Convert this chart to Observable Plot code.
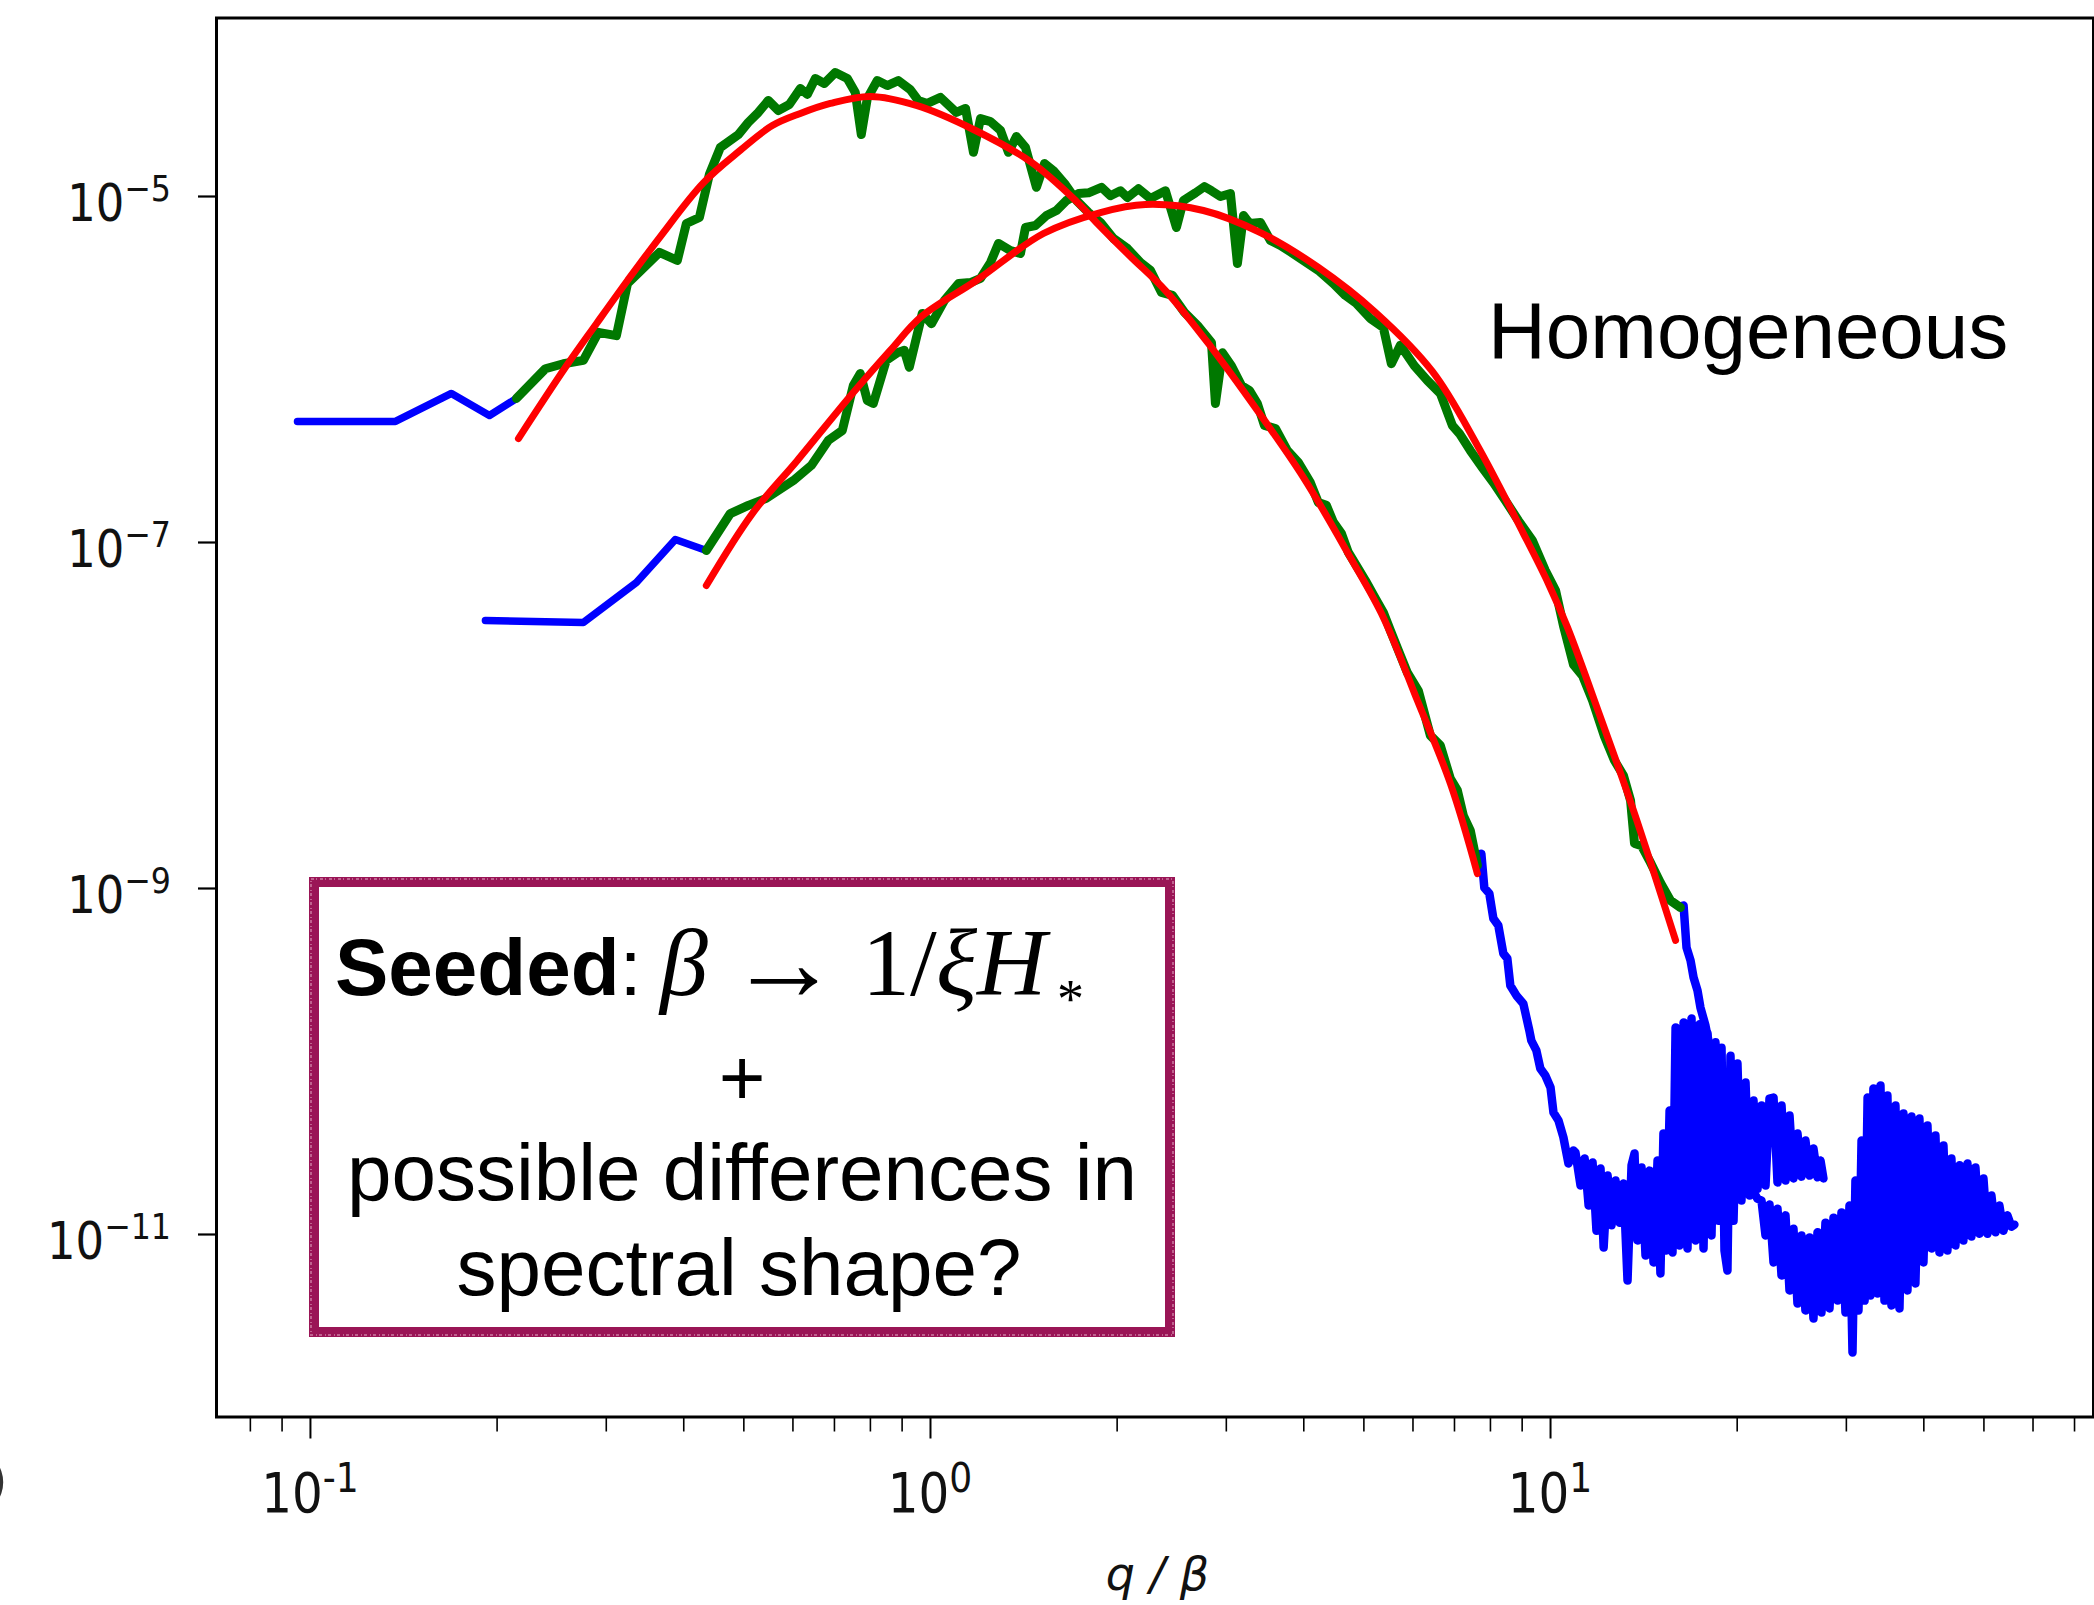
<!DOCTYPE html>
<html><head><meta charset="utf-8">
<script src="https://cdn.jsdelivr.net/npm/d3@7"></script>
<script src="https://cdn.jsdelivr.net/npm/@observablehq/plot@0.6"></script>
<style>html,body{margin:0;padding:0;background:#fff;overflow:hidden}#chart svg{display:block}</style>
</head><body><div id="chart"></div>
<script>
// ---- data: [q/beta, spectrum] ----
const blueA_head = [[0.0953,5.01e-7],[0.1371,5.01e-7],[0.1688,7.27e-7],[0.1944,5.42e-7],[0.2149,6.80e-7]];
const greenA = [[0.2149,6.80e-7],[0.2393,1.01e-6],[0.2558,1.08e-6],[0.2755,1.13e-6],[0.2913,1.64e-6],[0.3115,1.57e-6],[0.3246,3.14e-6],[0.3654,4.75e-6],[0.3906,4.27e-6],[0.4039,6.98e-6],[0.4239,7.56e-6],[0.4399,1.34e-5],[0.4582,1.92e-5],[0.4899,2.28e-5],[0.5084,2.68e-5],[0.5276,3.06e-5],[0.5476,3.59e-5],[0.5683,3.14e-5],[0.5920,3.40e-5],[0.6167,4.21e-5],[0.6329,3.89e-5],[0.6520,4.81e-5],[0.6741,4.50e-5],[0.7022,5.21e-5],[0.7343,4.81e-5],[0.7564,3.99e-5],[0.7734,2.28e-5],[0.7908,3.69e-5],[0.8208,4.68e-5],[0.8518,4.38e-5],[0.8873,4.68e-5],[0.9277,4.15e-5],[0.9557,3.59e-5],[0.9882,3.45e-5],[1.0378,3.74e-5],[1.101,3.06e-5],[1.139,3.23e-5],[1.173,1.80e-5],[1.204,2.82e-5],[1.2495,2.71e-5],[1.2968,2.41e-5],[1.336,1.80e-5],[1.376,2.22e-5],[1.423,1.92e-5],[1.482,1.13e-5],[1.527,1.55e-5],[1.579,1.41e-5],[1.651,1.17e-5],[1.720,9.48e-6],[1.798,8.08e-6],[1.880,7.08e-6],[1.973,5.72e-6],[2.078,5.01e-6],[2.181,4.15e-6],[2.263,3.74e-6],[2.358,2.79e-6],[2.456,2.68e-6],[2.568,2.14e-6],[2.695,1.80e-6],[2.839,1.43e-6],[2.881,6.36e-7],[2.957,1.25e-6],[3.057,1.05e-6],[3.174,8.08e-7],[3.270,7.56e-7],[3.367,6.36e-7],[3.456,4.75e-7],[3.600,4.56e-7],[3.764,3.40e-7],[3.921,2.90e-7],[4.099,2.22e-7],[4.223,1.70e-7],[4.350,1.64e-7],[4.465,1.31e-7],[4.599,1.13e-7],[4.720,8.76e-8],[4.863,7.36e-8],[5.028,6.03e-8],[5.218,4.75e-8],[5.375,3.94e-8],[5.517,3.10e-8],[5.683,2.38e-8],[5.876,1.77e-8],[6.121,1.39e-8],[6.400,7.66e-9],[6.642,6.71e-9],[6.893,4.32e-9],[7.075,3.69e-9],[7.234,2.64e-9],[7.425,2.16e-9],[7.621,1.36e-9]];
const blueA_tail = [[7.621,1.36e-9],[7.734,1.59e-9],[7.821,1.01e-9],[7.967,9.36e-10],[8.087,6.71e-10],[8.238,6.11e-10],[8.392,4.21e-10],[8.518,3.94e-10],[8.613,2.75e-10],[8.808,2.41e-10],[9.039,2.16e-10],[9.243,1.51e-10],[9.312,1.32e-10],[9.487,1.16e-10],[9.628,9.11e-11],[9.809,8.30e-11],[10.00,7.08e-11],[10.11,5.07e-11],[10.30,4.56e-11],[10.49,3.64e-11],[10.69,2.57e-11],[10.89,3.06e-11],[10.97,2.98e-11],[11.18,1.92e-11],[11.35,2.75e-11],[11.52,1.47e-11],[11.69,2.61e-11],[11.86,1.05e-11],[12.04,2.41e-11],[12.18,8.41e-12],[12.36,2.19e-11],[12.54,1.13e-11],[12.73,2.05e-11],[12.92,1.17e-11],[13.11,1.97e-11],[13.31,5.42e-12],[13.51,2.51e-11],[13.66,2.94e-11],[13.81,9.23e-12],[14.02,2.44e-11],[14.23,7.56e-12],[14.44,2.34e-11],[14.66,6.89e-12],[14.88,2.68e-11],[15.04,5.95e-12],[15.21,3.84e-11],[15.38,8.08e-12],[15.56,5.21e-11],[15.73,7.87e-12],[15.91,1.57e-10],[16.14,8.64e-12],[16.39,1.68e-10],[16.63,8.30e-12],[16.88,1.77e-10],[17.13,9.23e-12],[17.39,1.64e-10],[17.65,8.30e-12],[17.91,1.45e-10],[18.18,9.87e-12],[18.45,1.29e-10],[18.66,1.20e-11],[18.87,1.20e-10],[19.08,8.08e-12],[19.29,6.19e-12],[19.51,1.08e-10],[19.73,1.20e-11],[20.02,9.74e-11],[20.32,1.57e-11],[20.63,7.56e-11],[20.94,1.68e-11],[21.25,5.95e-11],[21.57,1.84e-11],[21.89,5.57e-11],[22.22,1.92e-11],[22.55,6.11e-11],[22.89,6.19e-11],[23.23,2.00e-11],[23.58,5.57e-11],[23.93,2.05e-11],[24.29,4.87e-11],[24.65,2.11e-11],[25.02,3.84e-11],[25.39,2.16e-11],[25.77,3.49e-11],[26.16,2.19e-11],[26.55,3.14e-11],[26.95,2.14e-11],[27.25,2.68e-11],[27.55,2.11e-11]];
const fitA = [[0.2165,3.99e-7],[0.2578,1.03e-6],[0.2892,1.84e-6],[0.3246,3.27e-6],[0.3667,5.87e-6],[0.4302,1.20e-5],[0.4935,1.85e-5],[0.5558,2.57e-5],[0.6167,3.02e-5],[0.6893,3.45e-5],[0.7997,3.79e-5],[0.9487,3.36e-5],[1.173,2.44e-5],[1.450,1.59e-5],[1.720,9.36e-6],[1.852,7.08e-6],[2.101,4.50e-6],[2.393,2.86e-6],[2.839,1.34e-6],[3.367,5.80e-7],[3.994,2.38e-7],[4.755,8.19e-8],[5.375,3.69e-8],[6.099,1.22e-8],[6.893,4.05e-9],[7.621,1.22e-9]];

const blueB_head = [[0.1915,3.54e-8],[0.2755,3.45e-8],[0.3355,5.87e-8],[0.3877,1.04e-7],[0.4350,8.99e-8]];
const greenB = [[0.4350,8.99e-8],[0.4755,1.47e-7],[0.5084,1.64e-7],[0.5435,1.80e-7],[0.6009,2.28e-7],[0.6424,2.79e-7],[0.6842,3.89e-7],[0.7207,4.44e-7],[0.7508,8.08e-7],[0.7705,9.48e-7],[0.7908,6.62e-7],[0.8087,6.36e-7],[0.8487,1.13e-6],[0.8840,1.25e-6],[0.9073,1.29e-6],[0.9243,1.03e-6],[0.9700,2.11e-6],[1.0037,1.84e-6],[1.0533,2.51e-6],[1.1096,3.14e-6],[1.1601,3.18e-6],[1.2040,3.36e-6],[1.2495,4.15e-6],[1.2872,5.35e-6],[1.3458,4.87e-6],[1.3967,4.68e-6],[1.4229,6.62e-6],[1.4768,6.80e-6],[1.5383,7.77e-6],[1.5965,8.30e-6],[1.6569,9.48e-6],[1.7324,1.04e-5],[1.798,1.05e-5],[1.8868,1.13e-5],[1.9509,1.01e-5],[2.0247,1.08e-5],[2.078,9.87e-6],[2.1647,1.11e-5],[2.2633,9.74e-6],[2.3929,1.08e-5],[2.4926,6.62e-6],[2.5583,9.48e-6],[2.6748,1.05e-5],[2.7657,1.14e-5],[2.8385,1.08e-5],[2.935,1.00e-5],[3.046,1.04e-5],[3.1263,4.10e-6],[3.1977,7.77e-6],[3.2698,6.98e-6],[3.4046,7.08e-6],[3.5334,5.57e-6],[3.667,5.21e-6],[3.8199,4.75e-6],[3.994,4.27e-6],[4.2229,3.74e-6],[4.4645,3.14e-6],[4.6679,2.68e-6],[4.8625,2.41e-6],[5.1219,1.97e-6],[5.375,1.75e-6],[5.5372,1.08e-6],[5.7254,1.38e-6],[6.0309,1.05e-6],[6.3292,8.64e-7],[6.642,7.27e-7],[6.9446,4.75e-7],[7.1276,4.27e-7],[7.4246,3.40e-7],[7.7628,2.71e-7],[8.0865,2.22e-7],[8.455,1.75e-7],[8.873,1.34e-7],[9.3463,1.03e-7],[9.809,6.89e-8],[10.19,5.28e-8],[10.49,3.31e-8],[10.89,1.97e-8],[11.26,1.70e-8],[11.69,1.22e-8],[12.22,7.56e-9],[12.68,5.49e-9],[13.11,4.50e-9],[13.46,3.23e-9],[13.66,1.82e-9],[14.02,1.77e-9],[14.44,1.45e-9],[15.04,1.08e-9],[15.61,8.53e-10],[16.20,7.77e-10]];
const blueB_tail = [[16.20,7.77e-10],[16.39,7.98e-10],[16.57,4.56e-10],[16.82,3.84e-10],[17.01,3.06e-10],[17.26,2.57e-10],[17.45,2.05e-10],[17.78,1.61e-10],[18.25,1.01e-10],[18.80,6.36e-11],[19.37,3.99e-11],[19.95,2.68e-11],[20.55,2.05e-11],[21.17,1.80e-11],[21.57,1.61e-11],[21.89,1.57e-11],[22.22,9.87e-12],[22.55,1.49e-11],[22.89,6.89e-12],[23.23,1.41e-11],[23.58,5.80e-12],[23.93,1.29e-11],[24.29,4.75e-12],[24.65,1.08e-11],[25.02,3.99e-12],[25.39,9.87e-12],[25.77,3.64e-12],[26.16,9.61e-12],[26.55,3.27e-12],[26.95,1.03e-11],[27.35,3.54e-12],[27.76,1.17e-11],[28.18,3.74e-12],[28.60,1.25e-11],[29.03,4.15e-12],[29.46,1.34e-11],[29.90,3.54e-12],[30.35,1.47e-11],[30.69,2.08e-12],[31.03,2.05e-11],[31.38,3.64e-12],[31.74,3.49e-11],[32.10,4.15e-12],[32.46,6.19e-11],[32.81,4.44e-12],[33.17,6.98e-11],[33.67,4.56e-12],[34.05,7.27e-11],[34.56,4.15e-12],[34.94,6.36e-11],[35.47,3.89e-12],[36.00,5.57e-11],[36.54,3.74e-12],[37.08,5.01e-11],[37.64,4.75e-12],[38.20,4.81e-11],[38.77,5.21e-12],[39.35,4.68e-11],[39.94,6.89e-12],[40.54,4.27e-11],[41.14,8.30e-12],[41.76,3.74e-11],[42.39,7.87e-12],[43.02,3.27e-11],[43.66,8.08e-12],[44.31,2.75e-11],[44.98,8.64e-12],[45.65,2.51e-11],[46.33,9.23e-12],[47.03,2.57e-11],[47.73,9.74e-12],[48.45,2.44e-11],[49.17,1.01e-11],[49.91,2.11e-11],[50.65,1.01e-11],[51.41,1.68e-11],[52.18,1.03e-11],[52.96,1.47e-11],[53.75,1.05e-11],[54.56,1.29e-11],[55.37,1.11e-11],[55.99,1.14e-11]];
const fitB = [[0.4350,5.64e-8],[0.5160,1.47e-7],[0.6099,2.98e-7],[0.7508,7.36e-7],[0.8613,1.29e-6],[0.9664,2.02e-6],[1.186,3.27e-6],[1.521,6.11e-6],[1.880,8.08e-6],[2.222,8.99e-6],[2.755,8.30e-6],[3.405,6.19e-6],[4.223,3.89e-6],[5.218,2.14e-6],[6.448,9.74e-7],[7.621,3.64e-7],[9.039,1.13e-7],[9.919,5.80e-8],[10.65,3.23e-8],[12.04,9.74e-9],[13.61,2.82e-9],[15.91,5.01e-10]];

// ---- ticks and labels ----
const xMajor = [0.1, 1, 10];
const xMinor = [0.08,0.09,0.2,0.3,0.4,0.5,0.6,0.7,0.8,0.9,2,3,4,5,6,7,8,9,20,30,40,50,60,70];
const xLabelExp = ["-1","0","1"];
const yMajor = [1e-5, 1e-7, 1e-9, 1e-11];
const yLabelExp = ["\u22125","\u22127","\u22129","\u221211"];
const xTitle = "q / \u03b2";
const annotation = "Homogeneous";

const BLUE = "#0000ff", GREEN = "#007800", RED = "#ff0000";
const L = (stroke, w, extra = {}) => ({x: d => d[0], y: d => d[1], stroke, strokeWidth: w, strokeLinejoin: "round", strokeLinecap: "round", ...extra});

const W = 2094, H = 1605, ML = 216, MR = 1, MT = 17.5, MB = 188.5;
const chart = Plot.plot({
  width: W, height: H,
  marginLeft: ML, marginRight: MR, marginTop: MT, marginBottom: MB,
  style: {background: "white"},
  x: {type: "log", domain: [0.070548, 75.11]},
  y: {type: "log", domain: [8.812e-13, 1.076e-4]},
  marks: [
    Plot.line(blueA_head, L(BLUE, 7.5)),
    Plot.line(blueB_head, L(BLUE, 7.5)),
    Plot.line(blueA_tail, L(BLUE, 8.5)),
    Plot.line(blueB_tail, L(BLUE, 8.5)),
    Plot.line(greenA, L(GREEN, 9)),
    Plot.line(greenB, L(GREEN, 9)),
    Plot.line(fitA, L(RED, 7, {curve: "catmull-rom"})),
    Plot.line(fitB, L(RED, 7, {curve: "catmull-rom"})),
    Plot.frame({stroke: "#000", strokeWidth: 3}),
    Plot.axisX({ticks: xMajor, tickSize: 22, tickFormat: () => "", strokeWidth: 2, label: null}),
    Plot.axisX({ticks: xMinor, tickSize: 15, tickFormat: () => "", strokeWidth: 1.6, label: null}),
    Plot.axisY({ticks: yMajor, tickSize: 18, tickFormat: () => "", strokeWidth: 2.2, label: null})
  ]
});
document.getElementById("chart").appendChild(chart);

// ---- text through the plot's own scales ----
const svg = d3.select(chart);
const sx = chart.scale("x"), sy = chart.scale("y");
const tl = svg.append("g").attr("font-family", "DejaVu Sans, sans-serif").attr("fill", "#111").attr("text-anchor", "start");
xMajor.forEach((v, i) => {
  const g = tl.append("g").attr("transform", `translate(${sx.apply(v)},${H - MB + 95}) scale(0.88,1)`);
  const t = g.append("text").attr("text-anchor", "middle").attr("font-size", 55);
  t.append("tspan").text("10");
  t.append("tspan").attr("font-size", 41).attr("dy", -20).text(xLabelExp[i]);
});
yMajor.forEach((v, i) => {
  const g = tl.append("g").attr("transform", `translate(${ML - 45},${sy.apply(v) + 25}) scale(0.88,1)`);
  const t = g.append("text").attr("text-anchor", "end").attr("font-size", 51);
  t.append("tspan").text("10");
  t.append("tspan").attr("font-size", 36).attr("dy", -20).text(yLabelExp[i]);
});
tl.append("text").attr("x", (ML + W - MR) / 2 + 3).attr("y", 1590).attr("text-anchor", "middle")
  .attr("font-size", 46).attr("font-style", "italic").text(xTitle);
tl.append("text").attr("x", -12).attr("y", 1498).attr("font-size", 50).attr("fill", "#333").text(")");

// ---- annotations ----
const an = svg.append("g").attr("fill", "#000").attr("text-anchor", "start");
an.append("text").attr("x", 1488).attr("y", 358).attr("font-family", "Liberation Sans, Arial, sans-serif")
  .attr("font-size", 80).text(annotation);
an.append("rect").attr("x", 314).attr("y", 882).attr("width", 856).attr("height", 450)
  .attr("fill", "white").attr("stroke", "#9a1556").attr("stroke-width", 10);
an.append("rect").attr("x", 311).attr("y", 879).attr("width", 862).attr("height", 456)
  .attr("fill", "none").attr("stroke", "#c0628f").attr("stroke-width", 2).attr("stroke-dasharray", "3 2 1 3");
const sans = "Liberation Sans, Arial, sans-serif", serif = "Liberation Serif, DejaVu Serif, serif";
const l1 = an.append("text").attr("y", 995).attr("font-family", sans).attr("font-size", 80);
l1.append("tspan").attr("x", 335).attr("font-weight", "bold").text("Seeded");
l1.append("tspan").text(":");
an.append("text").attr("x", 660).attr("y", 995).attr("font-family", serif).attr("font-style", "italic").attr("font-size", 96).text("\u03b2");
an.append("text").attr("x", 728).attr("y", 1000).attr("font-family", serif).attr("font-size", 112).text("\u2192");
an.append("text").attr("x", 862).attr("y", 995).attr("font-family", serif).attr("font-size", 96).text("1/");
an.append("text").attr("x", 936).attr("y", 995).attr("font-family", serif).attr("font-style", "italic").attr("font-size", 96).text("\u03beH");
an.append("text").attr("x", 1057).attr("y", 1017).attr("font-family", serif).attr("font-size", 54).text("*");
an.append("text").attr("x", 742).attr("y", 1105).attr("text-anchor", "middle").attr("font-family", sans).attr("font-size", 80).text("+");
an.append("text").attr("x", 742).attr("y", 1200).attr("text-anchor", "middle").attr("font-family", sans).attr("font-size", 80).text("possible differences in");
an.append("text").attr("x", 739).attr("y", 1295).attr("text-anchor", "middle").attr("font-family", sans).attr("font-size", 80).text("spectral shape?");
</script>
</body></html>
